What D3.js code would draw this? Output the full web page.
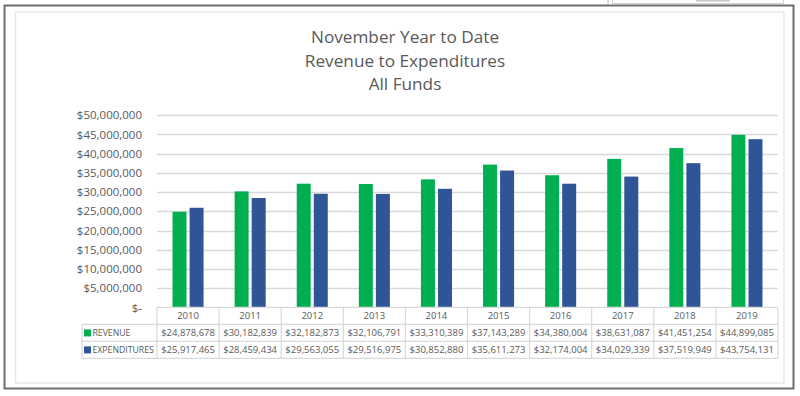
<!DOCTYPE html>
<html>
<head>
<meta charset="utf-8">
<script src="https://cdn.jsdelivr.net/npm/d3@7"></script>
<style>
  body { margin: 0; background: #fff; }
  svg text { font-family: "Open Sans", "DejaVu Sans", sans-serif; fill: #595959; }
</style>
</head>
<body>
<div id="chart"></div>
<script>
var years = ['2010', '2011', '2012', '2013', '2014', '2015', '2016', '2017', '2018', '2019'];
var seriesNames = ['REVENUE', 'EXPENDITURES'];
var revenue = [24878678, 30182839, 32182873, 32106791, 33310389, 37143289, 34380004, 38631087, 41451254, 44899085];
var expenditures = [25917465, 28459434, 29563055, 29516975, 30852880, 35611273, 32174004, 34029339, 37519949, 43754131];
var yTicks = [0, 5000000, 10000000, 15000000, 20000000, 25000000, 30000000, 35000000, 40000000, 45000000, 50000000];
var titleLines = ['November Year to Date', 'Revenue to Expenditures', 'All Funds'];
var colors = ['#00b050', '#2f5597'];

var frame = { width: 800, height: 396 },
  plot = { left: 157, right: 778, top: 115.2, bottom: 307.4 },
  rowH = 17,
  legendLeft = 82;

var svg = d3.select('#chart').append('svg')
  .attr('width', frame.width)
  .attr('height', frame.height);

// bit of the window behind, top right
svg.append('line')
  .attr('x1', 608).attr('x2', 608).attr('y1', 0).attr('y2', 6)
  .attr('stroke', '#bdbdbd').attr('stroke-width', 1);
svg.append('rect')
  .attr('x', 612.5).attr('y', -2).attr('width', 171).attr('height', 5.5)
  .attr('fill', '#fff').attr('stroke', '#d0d0d0').attr('stroke-width', 1);
svg.append('rect')
  .attr('x', 696).attr('y', 0).attr('width', 34).attr('height', 1.5)
  .attr('fill', '#c8c8c8');

// outer and inner borders
svg.append('rect')
  .attr('x', 4.5).attr('y', 5.5).attr('width', 789).attr('height', 383)
  .attr('fill', '#fff').attr('stroke', '#6e6e6e').attr('stroke-width', 2);
svg.append('rect')
  .attr('x', 15.5).attr('y', 12).attr('width', 768.5).attr('height', 371)
  .attr('fill', 'none').attr('stroke', '#e8e8e8').attr('stroke-width', 1.5);

// title
svg.append('g').selectAll('text')
  .data(titleLines)
  .enter().append('text')
  .attr('x', 405)
  .attr('y', function (d, i) { return 43 + i * 23.5; })
  .attr('text-anchor', 'middle')
  .style('font-size', '17.2px')
  .text(function (d) { return d; });

var x = d3.scaleBand()
  .domain(years)
  .range([plot.left, plot.right]);

var x1 = d3.scaleBand()
  .domain(seriesNames)
  .range([x.bandwidth() * 0.25, x.bandwidth() * 0.75])
  .paddingInner(0.18);

var y = d3.scaleLinear()
  .domain([0, 50000000])
  .range([plot.bottom, plot.top]);

var money = d3.format('$,');

// gridlines
svg.append('g')
  .selectAll('line')
  .data(yTicks.slice(1))
  .enter().append('line')
  .attr('x1', plot.left).attr('x2', plot.right)
  .attr('y1', function (d) { return Math.round(y(d)) + 0.5; })
  .attr('y2', function (d) { return Math.round(y(d)) + 0.5; })
  .attr('stroke', '#d9d9d9').attr('stroke-width', 1.5);

// y axis labels
var yAxis = svg.append('g')
  .attr('class', 'axis axis--y')
  .attr('transform', 'translate(' + (plot.left - 8) + ',0)')
  .call(d3.axisLeft(y).tickValues(yTicks).tickSize(0).tickPadding(7)
    .tickFormat(function (d) { return d === 0 ? '$-' : money(d); }));
yAxis.select('.domain').remove();
yAxis.selectAll('text')
  .style('font-size', '11.5px')
  .style('fill', '#595959');

// bars
var series = [revenue, expenditures];
var groups = svg.append('g').selectAll('g')
  .data(years)
  .enter().append('g')
  .attr('transform', function (d) { return 'translate(' + x(d) + ',0)'; });

groups.selectAll('rect')
  .data(function (d, i) {
    return seriesNames.map(function (s, k) { return { key: s, value: series[k][i], k: k }; });
  })
  .enter().append('rect')
  .attr('x', function (d) { return x1(d.key); })
  .attr('width', x1.bandwidth())
  .attr('y', function (d) { return y(d.value); })
  .attr('height', function (d) { return y(0) - y(d.value); })
  .attr('fill', function (d) { return colors[d.k]; });

// data table
var table = svg.append('g').attr('class', 'table');
var lineColor = '#d9d9d9';
var t0 = plot.bottom;

// horizontal lines
table.append('line')
  .attr('x1', plot.left).attr('x2', plot.right).attr('y1', t0).attr('y2', t0)
  .attr('stroke', lineColor).attr('stroke-width', 1.2);
[1, 2, 3].forEach(function (r) {
  table.append('line')
    .attr('x1', legendLeft).attr('x2', plot.right)
    .attr('y1', t0 + r * rowH).attr('y2', t0 + r * rowH)
    .attr('stroke', lineColor).attr('stroke-width', 1.2);
});

// vertical lines
var colEdges = years.map(function (d) { return x(d); }).concat([plot.right]);
table.selectAll('line.v')
  .data(colEdges)
  .enter().append('line')
  .attr('class', 'v')
  .attr('x1', function (d) { return d; }).attr('x2', function (d) { return d; })
  .attr('y1', t0).attr('y2', t0 + 3 * rowH)
  .attr('stroke', lineColor).attr('stroke-width', 1.2);
table.append('line')
  .attr('x1', legendLeft).attr('x2', legendLeft)
  .attr('y1', t0 + rowH).attr('y2', t0 + 3 * rowH)
  .attr('stroke', lineColor).attr('stroke-width', 1.2);

// year labels
table.selectAll('text.year')
  .data(years)
  .enter().append('text')
  .attr('class', 'year')
  .attr('x', function (d) { return x(d) + x.bandwidth() / 2; })
  .attr('y', t0 + rowH / 2 + 3.5)
  .attr('text-anchor', 'middle')
  .style('font-size', '9.5px')
  .text(function (d) { return d; });

// series rows
seriesNames.forEach(function (name, k) {
  var rowY = t0 + (k + 1) * rowH;
  table.append('rect')
    .attr('x', legendLeft + 2).attr('y', rowY + rowH / 2 - 3.5)
    .attr('width', 7).attr('height', 7)
    .attr('fill', colors[k]);
  table.append('text')
    .attr('x', legendLeft + 10.5).attr('y', rowY + rowH / 2 + 3.5)
    .style('font-size', '8.7px')
    .text(name);
  table.selectAll('text.v' + k)
    .data(series[k])
    .enter().append('text')
    .attr('class', 'v' + k)
    .attr('x', function (d, i) { return x(years[i]) + x.bandwidth() / 2; })
    .attr('y', rowY + rowH / 2 + 3.5)
    .attr('text-anchor', 'middle')
    .style('font-size', '9.5px')
    .text(function (d) { return money(d); });
});
</script>
</body>
</html>
